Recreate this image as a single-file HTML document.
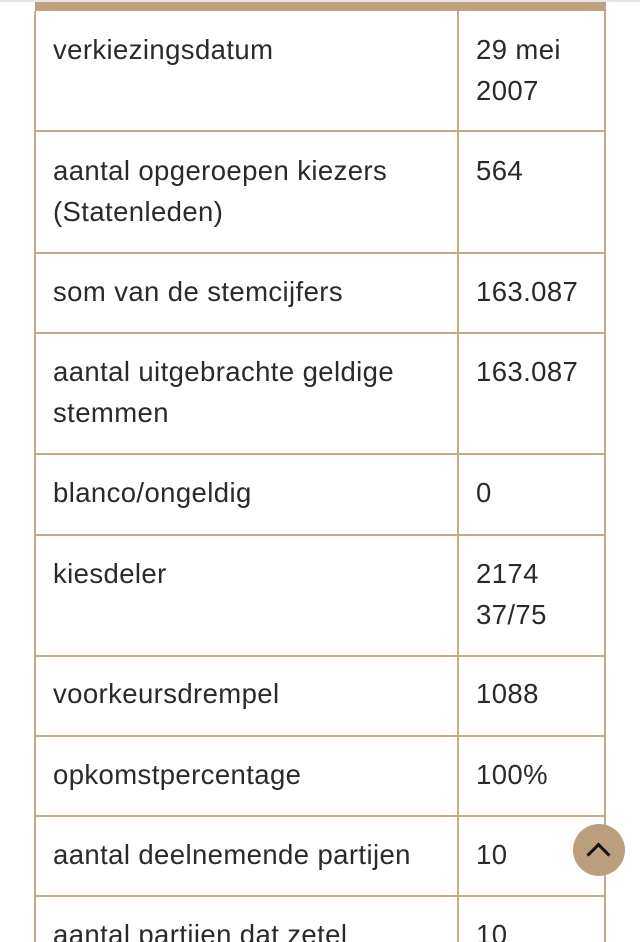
<!DOCTYPE html>
<html><head><meta charset="utf-8"><style>
html,body{margin:0;padding:0;background:#fff;width:640px;height:942px;overflow:hidden;position:relative}
.topline{position:absolute;left:0;top:0;width:640px;height:2px;background:#e6e6e6}
.bar{position:absolute;left:35px;top:2px;width:571px;height:9px;background:#bfa27e}
.vl{position:absolute;top:11px;bottom:0;width:2px;background:#c4aa87}
.hl{position:absolute;left:35px;width:571px;height:2px;background:#c4aa87}
.t{position:absolute;font-family:"Liberation Sans",sans-serif;font-size:27.5px;letter-spacing:0.4px;color:#2a2a2a;line-height:40.5px;white-space:nowrap}
.btn{position:absolute;left:573px;top:824px;width:52px;height:52px;border-radius:50%;background:#bb9e7b}
.btn:after{content:"";position:absolute;left:17px;top:22px;width:14px;height:14px;border-left:3px solid #111;border-top:3px solid #111;transform:rotate(45deg)}
</style></head><body>
<div class="topline"></div>
<div class="bar"></div>
<div class="vl" style="left:34px"></div>
<div class="vl" style="left:457px"></div>
<div class="vl" style="left:604px"></div>
<div class="hl" style="top:130px"></div>
<div class="hl" style="top:252px"></div>
<div class="hl" style="top:332px"></div>
<div class="hl" style="top:453px"></div>
<div class="hl" style="top:534px"></div>
<div class="hl" style="top:655px"></div>
<div class="hl" style="top:735px"></div>
<div class="hl" style="top:815px"></div>
<div class="hl" style="top:895px"></div>

<div class="t" style="left:53px;top:30px">verkiezingsdatum</div>
<div class="t" style="left:476px;top:30px">29 mei<br>2007</div>
<div class="t" style="left:53px;top:151px">aantal opgeroepen kiezers<br>(Statenleden)</div>
<div class="t" style="left:476px;top:151px">564</div>
<div class="t" style="left:53px;top:272px">som van de stemcijfers</div>
<div class="t" style="left:476px;top:272px">163.087</div>
<div class="t" style="left:53px;top:352px">aantal uitgebrachte geldige<br>stemmen</div>
<div class="t" style="left:476px;top:352px">163.087</div>
<div class="t" style="left:53px;top:473px">blanco/ongeldig</div>
<div class="t" style="left:476px;top:473px">0</div>
<div class="t" style="left:53px;top:554px">kiesdeler</div>
<div class="t" style="left:476px;top:554px">2174<br>37/75</div>
<div class="t" style="left:53px;top:674px">voorkeursdrempel</div>
<div class="t" style="left:476px;top:674px">1088</div>
<div class="t" style="left:53px;top:755px">opkomstpercentage</div>
<div class="t" style="left:476px;top:755px">100%</div>
<div class="t" style="left:53px;top:835px">aantal deelnemende partijen</div>
<div class="t" style="left:476px;top:835px">10</div>
<div class="t" style="left:53px;top:915px">aantal partijen dat zetel</div>
<div class="t" style="left:476px;top:915px">10</div>
<div class="btn"></div>
</body></html>
